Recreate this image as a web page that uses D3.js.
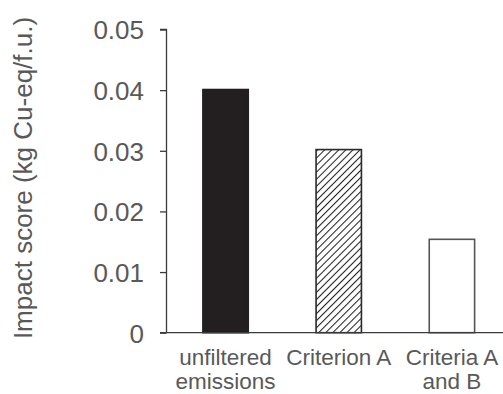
<!DOCTYPE html>
<html><head><meta charset="utf-8">
<script src="https://cdn.jsdelivr.net/npm/d3@7"></script>
<style>html,body{margin:0;padding:0;background:#fff;}svg{display:block;}</style>
</head><body>
<script>
const categories = [["unfiltered","emissions"],["Criterion A"],["Criteria A","and B"]];
const values = [0.0401, 0.0302, 0.0154];
const yTicks = [0, 0.01, 0.02, 0.03, 0.04, 0.05];
const yTickLabels = ["0","0.01","0.02","0.03","0.04","0.05"];
const yTitle = "Impact score (kg Cu-eq/f.u.)";

const W = 503, H = 394;
const svg = d3.select("body").append("svg").attr("width", W).attr("height", H);
const defs = svg.append("defs");
const pat = defs.append("pattern").attr("id","hatch").attr("patternUnits","userSpaceOnUse")
  .attr("width",5).attr("height",5).attr("patternTransform","rotate(45)");
pat.append("rect").attr("width",5).attr("height",5).attr("fill","#fff");
pat.append("line").attr("x1",0).attr("y1",0).attr("x2",0).attr("y2",5)
  .attr("stroke","#222").attr("stroke-width",2.1);

const x0 = 166.5;
const y = d3.scaleLinear().domain([0,0.05]).range([332.7, 29.5]);
const x = d3.scaleBand().domain(d3.range(values.length)).range([x0, 511])
  .paddingInner(0.586).paddingOuter(0.315);

const font = "'Liberation Sans', Arial, sans-serif";
const textColor = "#595959";
const axisColor = "#3a3a3a";

// y axis
const yAxis = d3.axisLeft(y).tickValues(yTicks).tickFormat((d,i)=>yTickLabels[i]).tickSize(6.5).tickPadding(16);
const gy = svg.append("g").attr("transform",`translate(${x0},0)`).call(yAxis);
gy.select(".domain").attr("stroke",axisColor).attr("stroke-width",1.3).attr("d",`M-6.5,${y(0.05)}H0V${y(0)}`);
gy.selectAll(".tick line").attr("stroke",axisColor).attr("stroke-width",1.3);
gy.selectAll(".tick text").attr("fill",textColor).style("font-family",font).style("font-size","26px").attr("dy","0.36em");

// bars
const fills = ["#231f20","url(#hatch)","#ffffff"];
const strokes = ["#231f20","#2a2a2a","#555555"];
svg.append("g").selectAll("rect").data(values).join("rect")
  .attr("x",(d,i)=>x(i)+0.75).attr("width",x.bandwidth()-1.5)
  .attr("y",d=>y(d)).attr("height",d=>y(0)-y(d))
  .attr("fill",(d,i)=>fills[i]).attr("stroke",(d,i)=>strokes[i]).attr("stroke-width",1.6);

// baseline
svg.append("line").attr("x1",x0-6.5).attr("x2",W).attr("y1",y(0)).attr("y2",y(0))
  .attr("stroke",axisColor).attr("stroke-width",1.3);

// category labels
const cat = svg.append("g");
categories.forEach((lines,i)=>{
  lines.forEach((t,j)=>{
    cat.append("text").attr("x",x(i)+x.bandwidth()/2).attr("y",365+j*23.5)
      .attr("text-anchor","middle").attr("fill",textColor)
      .style("font-family",font).style("font-size","22.5px").text(t);
  });
});

// y title
svg.append("text").attr("transform",`translate(31.7,178) rotate(-90)`)
  .attr("text-anchor","middle").attr("fill",textColor)
  .style("font-family",font).style("font-size","26px").text(yTitle);
</script>
</body></html>
